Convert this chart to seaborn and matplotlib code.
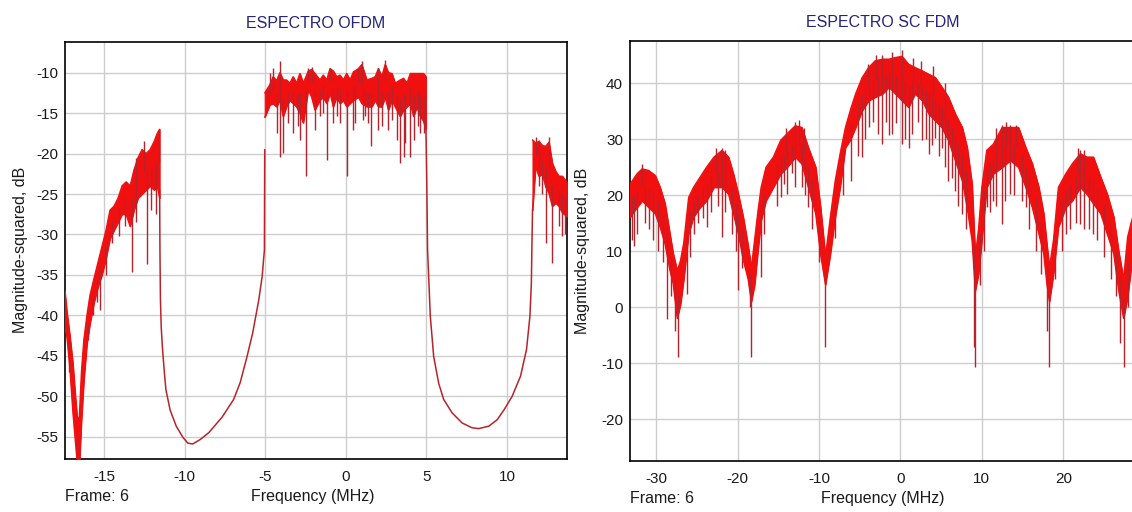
import numpy as np
import matplotlib
matplotlib.use("Agg")
import matplotlib.pyplot as plt
import seaborn as sns

# ---------------- OFDM spectrum (left panel) ----------------
# Noisy lobes: frequency (MHz) with the upper / lower edge of the trace (dB)
ofdm_lobe_l_freq = [-17.43, -17.31, -17.12, -16.93, -16.78, -16.65, -16.53, -16.40, -16.25,
                    -16.06, -15.87, -15.63, -15.38, -15.13, -14.88, -14.63, -14.38, -14.13,
                    -13.88, -13.63, -13.38, -13.14, -12.89, -12.64, -12.39, -12.14, -11.89,
                    -11.70, -11.55]
ofdm_lobe_l_hi = [-37.0, -39.5, -42.5, -46.0, -50.0, -53.0, -52.5, -47.0, -43.0,
                  -40.0, -37.5, -35.5, -33.5, -31.5, -29.5, -27.0, -26.5, -25.5,
                  -24.0, -23.5, -24.0, -22.0, -20.5, -19.5, -20.0, -19.5, -18.5,
                  -17.5, -17.0]
ofdm_lobe_l_lo = [-41.5, -42.5, -46.5, -52.0, -55.5, -58.5, -58.5, -53.0, -48.0,
                  -43.5, -41.0, -38.5, -36.5, -35.0, -33.0, -30.5, -29.5, -28.5,
                  -27.5, -27.5, -29.0, -27.0, -25.5, -25.0, -24.5, -24.0, -24.5,
                  -24.0, -25.5]

ofdm_main_freq = [-5.03, -4.72, -4.51, -4.30, -4.09, -3.89, -3.68, -3.47, -3.27, -3.06,
                  -2.85, -2.64, -2.33, -2.12, -1.92, -1.61, -1.40, -1.19, -0.98, -0.78,
                  -0.57, -0.36, -0.16, 0.05, 0.26, 0.47, 0.78, 0.99, 1.30, 1.61,
                  1.82, 2.02, 2.23, 2.44, 2.64, 2.86, 3.06, 3.37, 3.58, 3.79,
                  4.00, 4.20, 4.41, 4.62, 4.82, 4.97]
ofdm_main_hi = [-12.5, -11.5, -10.5, -11.0, -10.0, -10.9, -10.9, -11.3, -10.5, -11.3,
                -10.1, -11.3, -9.8, -9.6, -10.1, -10.9, -10.3, -10.9, -9.5, -9.8,
                -10.5, -10.3, -10.9, -10.1, -10.9, -9.9, -9.5, -9.0, -10.9, -10.7,
                -10.5, -9.5, -10.5, -9.0, -10.0, -10.1, -11.3, -10.9, -10.7, -11.3,
                -10.1, -10.1, -10.1, -10.1, -10.1, -10.5]
ofdm_main_lo = [-15.5, -14.0, -13.8, -14.2, -13.4, -15.4, -14.2, -13.4, -13.8, -14.2,
                -15.0, -16.2, -12.1, -13.0, -14.6, -13.4, -13.0, -13.8, -12.5, -14.2,
                -13.0, -13.8, -13.4, -14.2, -13.8, -13.4, -13.0, -13.8, -14.2, -14.2,
                -13.4, -14.2, -14.2, -13.0, -14.6, -13.4, -14.2, -15.4, -14.6, -14.2,
                -13.8, -15.4, -14.2, -15.4, -16.0, -17.0]

ofdm_lobe_r_freq = [11.58, 11.77, 11.98, 12.19, 12.40, 12.60, 12.81, 13.02, 13.22, 13.43, 13.73]
ofdm_lobe_r_hi = [-18.3, -18.7, -18.5, -19.0, -19.1, -18.6, -21.2, -22.2, -22.8, -22.8, -23.6]
ofdm_lobe_r_lo = [-27.0, -21.6, -22.8, -22.5, -24.1, -24.9, -26.5, -26.1, -26.5, -27.3, -27.8]

# Smooth roll-off between the occupied bands
ofdm_gap_l_freq = [-11.55, -11.53, -11.50, -11.45, -11.37, -11.25, -11.16, -10.90, -10.52,
                   -10.10, -9.80, -9.50, -9.03, -8.50, -7.68, -6.96, -6.55, -6.13, -5.78,
                   -5.40, -5.19, -5.05, -5.04, -5.03]
ofdm_gap_l_db = [-24.5, -32.0, -38.1, -41.5, -44.2, -47.2, -49.2, -51.7, -53.7,
                 -55.1, -55.8, -55.9, -55.35, -54.5, -52.6, -50.4, -48.3, -45.1, -42.2,
                 -38.1, -35.2, -31.9, -25.0, -19.5]
ofdm_gap_r_freq = [4.97, 5.02, 5.07, 5.24, 5.45, 5.76, 6.07, 6.59, 7.21, 7.83, 8.25,
                   8.87, 9.39, 9.84, 10.32, 10.84, 11.21, 11.42, 11.51, 11.54, 11.58]
ofdm_gap_r_db = [-17.0, -23.2, -31.9, -40.1, -45.1, -48.4, -50.4, -52.05, -53.3, -53.9, -54.0,
                 -53.7, -52.9, -51.6, -50.0, -47.5, -44.2, -40.1, -36.0, -31.9, -27.0]

# Isolated spikes of the OFDM trace (tip value, dB)
ofdm_spike_freq = [-17.2, -16.7, -16.55, -16.0, -15.7, -15.46, -15.25, -14.9, -14.5, -14.05,
                   -13.7, -13.28, -13.0, -13.0, -12.5, -12.35, -12.1, -11.8, -11.6,
                   -4.72, -4.51, -4.30, -4.09, -4.09, -3.89, -3.57, -3.27, -2.95, -2.85,
                   -2.50, -2.33, -2.12, -1.92, -1.61, -1.40, -1.19, -0.98, -0.78, -0.57,
                   -0.36, 0.05, 0.47, 0.57, 0.78, 0.99, 1.09, 1.20, 1.40, 1.55, 2.02,
                   2.02, 2.23, 2.44, 2.64, 2.86, 3.16, 3.37, 3.58, 3.68, 4.00, 4.20,
                   4.50, 4.62, 4.82,
                   11.8, 11.98, 12.0, 12.2, 12.40, 12.60, 12.81, 13.2, 13.43, 13.6]
ofdm_spike_db = [-47.0, -58.0, -58.0, -43.0, -40.0, -38.3, -39.3, -35.0, -31.0, -30.2,
                 -29.0, -34.7, -28.5, -20.5, -18.5, -33.6, -27.0, -27.5, -17.0,
                 -10.1, -9.4, -17.5, -8.6, -20.4, -19.9, -16.2, -17.5, -16.6, -18.3,
                 -22.8, -9.4, -9.3, -17.1, -15.4, -15.0, -20.8, -9.4, -16.2, -15.4,
                 -16.2, -22.8, -17.1, -16.2, -9.4, -8.6, -15.8, -15.4, -16.2, -19.1, -17.1,
                 -9.4, -16.6, -8.4, -17.1, -15.8, -18.3, -21.2, -20.4, -18.7, -20.4, -18.3,
                 -16.6, -17.5, -17.5,
                 -18.0, -24.0, -18.3, -25.0, -31.0, -18.0, -33.5, -29.0, -30.2, -30.0]

# ---------------- SC-FDM spectrum (right panel) ----------------
scfdm_freq = [-33.2, -32.9, -32.35, -31.7, -30.9, -30.1, -29.5, -28.9, -28.3, -27.9,
              -27.4, -27.0, -26.6, -26.0, -25.4, -24.6, -23.8, -22.9, -21.9, -21.1,
              -20.5, -19.9, -19.3, -18.7, -18.3, -17.9, -17.5, -17.1, -16.5, -15.6,
              -14.7, -13.9, -12.9, -12.1, -11.3, -10.4, -9.8, -9.2, -8.6, -8.0,
              -7.4, -6.75, -6.1, -5.5, -4.7, -3.9, -3.1, -2.2, -1.4, -0.6,
              0.2, 1.0, 1.8, 2.7, 3.5, 4.3, 5.1, 5.9, 6.75, 7.6,
              8.2, 8.8, 9.2, 9.6, 10.0, 10.6, 11.4, 12.5, 13.5, 14.5,
              15.4, 16.2, 17.0, 17.6, 18.0, 18.3, 18.8, 19.4, 20.3, 21.1,
              22.1, 22.9, 23.7, 24.6, 25.4, 26.2, 26.8, 27.4, 27.9, 28.3, 28.9]
scfdm_hi = [22.0, 22.6, 23.8, 24.7, 24.4, 23.5, 21.4, 18.5, 13.1, 9.6,
            6.5, 8.3, 11.5, 19.6, 21.4, 23.2, 25.0, 26.8, 28.0, 26.8,
            23.8, 20.2, 16.1, 11.0, 7.0, 12.0, 17.0, 21.4, 25.0, 26.8,
            29.8, 31.0, 32.4, 32.1, 28.5, 25.0, 17.8, 9.0, 16.1, 22.6,
            27.4, 32.1, 35.4, 38.1, 41.0, 42.8, 44.0, 44.3, 44.3, 44.6,
            44.8, 43.4, 42.8, 42.2, 41.6, 41.0, 39.3, 37.5, 34.5, 32.1,
            28.5, 22.0, 9.0, 14.0, 21.4, 28.0, 29.1, 32.1, 32.1, 32.1,
            28.5, 25.6, 21.4, 16.7, 11.0, 7.0, 12.0, 21.4, 23.8, 25.6,
            27.4, 26.8, 26.8, 23.2, 20.2, 16.1, 10.0, 5.0, 12.5, 14.9, 18.0]
scfdm_lo = [16.0, 16.7, 17.8, 19.0, 17.8, 16.7, 14.3, 11.3, 6.6, 4.2,
            -2.0, 0.5, 5.0, 13.1, 16.1, 17.8, 19.0, 21.4, 21.4, 20.2,
            16.7, 13.1, 8.5, 5.0, 1.0, 4.0, 10.0, 15.5, 19.0, 21.4,
            23.8, 25.0, 26.8, 25.6, 21.4, 16.7, 9.5, 4.0, 9.5, 16.1,
            21.4, 28.5, 30.0, 32.1, 35.1, 36.9, 37.5, 38.1, 39.3, 38.1,
            36.9, 35.7, 38.1, 36.9, 34.5, 33.3, 32.1, 29.8, 26.2, 22.6,
            17.8, 11.9, 3.0, 6.0, 11.9, 21.4, 23.8, 25.0, 26.2, 25.0,
            21.4, 17.8, 13.1, 9.5, 4.0, 1.0, 6.0, 14.3, 17.8, 19.0,
            21.4, 20.2, 18.5, 16.7, 13.1, 9.5, 3.0, -2.0, 1.8, 6.6, 10.0]

# Isolated spikes of the SC-FDM trace (tip value, dB)
scfdm_spike_freq = [-33.0, -32.7, -32.35, -31.7, -31.3, -30.9, -30.4, -29.8, -29.2, -28.7,
                    -28.2, -27.7, -27.35, -26.2, -25.8, -25.4, -24.9, -24.2, -23.8, -23.3,
                    -22.6, -22.4, -21.9, -21.9, -21.5, -21.5, -20.7, -20.2, -19.9, -19.5,
                    -18.5, -18.3, -17.1, -16.8, -15.2, -14.7, -14.3, -14.0, -13.9, -13.3,
                    -12.9, -12.9, -12.5, -12.1, -11.8, -11.7, -11.3, -10.8, -10.0, -9.2,
                    -8.0, -7.0, -6.1, -5.2, -4.7, -4.3, -4.0, -3.9, -3.4, -3.0,
                    -2.7, -2.2, -2.2, -1.8, -1.4, -1.0, -1.0, -0.6, 0.2, 0.2,
                    0.6, 1.0, 1.4, 1.5, 2.2, 2.5, 2.7, 3.1, 3.5, 3.9,
                    4.0, 4.3, 4.7, 5.1, 5.5, 5.5, 5.9, 6.3, 6.75, 7.1,
                    7.6, 8.0, 9.0, 9.2, 9.8, 10.3, 10.6, 11.0, 11.4, 11.8,
                    11.8, 12.5, 12.5, 12.9, 13.0, 13.5, 13.5, 13.9, 14.2, 14.9,
                    15.4, 15.8, 16.6, 17.3, 18.0, 18.3, 19.0, 19.8, 20.3, 20.8,
                    21.6, 21.8, 22.1, 22.1, 22.5, 22.6, 23.2, 23.7, 24.2, 25.0,
                    25.8, 26.5, 27.0, 27.4, 28.0, 28.6]
scfdm_spike_db = [12.0, 11.0, 13.1, 25.5, 15.0, 14.0, 12.0, 10.0, 8.0, -2.1,
                  2.0, -4.2, -8.9, 2.4, 9.0, 13.1, 15.0, 16.0, 14.3, 17.0,
                  28.5, 18.0, 12.5, 28.5, 17.0, 28.0, 13.0, 10.0, 3.0, 7.0,
                  0.0, -8.9, 5.4, 13.0, 18.0, 19.6, 22.0, 32.0, 20.2, 24.0,
                  21.4, 33.0, 33.5, 21.4, 32.0, 20.0, 17.8, 14.0, 8.0, -7.1,
                  12.4, 20.0, 22.6, 27.0, 26.8, 30.0, 43.5, 32.1, 33.0, 45.0,
                  31.0, 29.1, 45.0, 33.0, 30.8, 31.0, 45.5, 32.9, 29.1, 46.0,
                  30.0, 28.5, 31.0, 44.5, 33.0, 44.0, 29.8, 30.0, 27.4, 29.0,
                  43.0, 30.3, 27.0, 28.5, 25.0, 40.0, 22.6, 23.0, 20.8, 18.0,
                  16.7, 14.0, -7.1, -10.7, 4.0, 10.0, 17.8, 17.0, 19.0, 18.0,
                  32.0, 14.9, 32.5, 19.0, 33.0, 20.2, 32.5, 20.0, 32.5, 19.0,
                  17.8, 14.0, 10.0, 6.0, -4.2, -10.7, 5.0, 10.0, 13.1, 14.0,
                  15.0, 28.5, 14.9, 28.0, 28.0, 14.0, 14.0, 13.1, 12.0, 9.0,
                  5.0, 2.0, -6.5, -10.7, 0.0, 5.0]

RED = "#f01010"
DARK_RED = "#b8232b"
TITLE_BLUE = "#24247c"

sns.set_theme(style="whitegrid")
plt.rcParams["font.family"] = ["Liberation Sans", "DejaVu Sans"]
plt.rcParams["axes.unicode_minus"] = False

fig = plt.figure(figsize=(11.32, 5.12), dpi=100)
fig.patch.set_facecolor("white")
W, H = 1132, 512
ax1 = fig.add_axes([65 / W, (H - 459) / H, 502 / W, (459 - 41.7) / H])
ax2 = fig.add_axes([630 / W, (H - 460.7) / H, 506 / W, (460.7 - 40.7) / H])


def draw_band(ax, f, hi, lo):
    f, hi, lo = map(np.asarray, (f, hi, lo))
    ax.fill_between(f, lo, hi, color=RED, linewidth=0.8, edgecolor=RED, zorder=3)
    sns.lineplot(x=f, y=hi, ax=ax, color=RED, linewidth=1.0, sort=False,
                 estimator=None, zorder=3)
    sns.lineplot(x=f, y=lo, ax=ax, color=RED, linewidth=1.0, sort=False,
                 estimator=None, zorder=3)


def draw_spikes(ax, sf, sdb, band_f, band_hi, band_lo):
    band_f = np.asarray(band_f)
    order = np.argsort(band_f)
    mid = (np.asarray(band_hi) + np.asarray(band_lo)) / 2
    base = np.interp(sf, band_f[order], mid[order])
    ax.vlines(sf, base, sdb, color=DARK_RED, linewidth=1.0, zorder=4)


# left panel
for f, hi, lo in [(ofdm_lobe_l_freq, ofdm_lobe_l_hi, ofdm_lobe_l_lo),
                  (ofdm_main_freq, ofdm_main_hi, ofdm_main_lo),
                  (ofdm_lobe_r_freq, ofdm_lobe_r_hi, ofdm_lobe_r_lo)]:
    draw_band(ax1, f, hi, lo)
for f, db in [(ofdm_gap_l_freq, ofdm_gap_l_db), (ofdm_gap_r_freq, ofdm_gap_r_db)]:
    sns.lineplot(x=f, y=db, ax=ax1, color=DARK_RED, linewidth=1.1, sort=False,
                 estimator=None, zorder=3)
all_f = ofdm_lobe_l_freq + ofdm_main_freq + ofdm_lobe_r_freq
all_hi = ofdm_lobe_l_hi + ofdm_main_hi + ofdm_lobe_r_hi
all_lo = ofdm_lobe_l_lo + ofdm_main_lo + ofdm_lobe_r_lo
draw_spikes(ax1, ofdm_spike_freq, ofdm_spike_db, all_f, all_hi, all_lo)

# right panel
draw_band(ax2, scfdm_freq, scfdm_hi, scfdm_lo)
draw_spikes(ax2, scfdm_spike_freq, scfdm_spike_db, scfdm_freq, scfdm_hi, scfdm_lo)

panels = [
    (ax1, "ESPECTRO OFDM", (-17.42, 13.72), (-57.76, -6.17),
     np.arange(-15, 11, 5), np.arange(-55, -9, 5), -0.0737),
    (ax2, "ESPECTRO SC FDM", (-33.2, 28.93), (-27.45, 47.6),
     np.arange(-30, 21, 10), np.arange(-20, 41, 10), -0.0794),
]
for ax, title, xl, yl, xt, yt, ylab_x in panels:
    ax.set_facecolor("white")
    ax.set_xlim(*xl)
    ax.set_ylim(*yl)
    ax.set_xticks(xt)
    ax.set_yticks(yt)
    ax.grid(True, color="#cdcdcd", linewidth=1.0)
    ax.set_axisbelow(True)
    for s in ax.spines.values():
        s.set_visible(True)
        s.set_color("black")
        s.set_linewidth(1.2)
    ax.tick_params(axis="both", length=0, labelsize=11, labelcolor="#1a1a1a")
    ax.tick_params(axis="x", pad=8)
    ax.tick_params(axis="y", pad=5)
    ax.set_title(title, color=TITLE_BLUE, fontsize=11.5, pad=10)
    ax.set_xlabel("Frequency (MHz)", fontsize=11.5, color="#1a1a1a")
    ax.set_ylabel("Magnitude-squared, dB", fontsize=11.5, color="#1a1a1a")
    ax.xaxis.set_label_coords(0.494 if ax is ax1 else 0.5, -0.072)
    ax.yaxis.set_label_coords(ylab_x, 0.5)
    ax.text(0.0, -0.072, "Frame: 6", transform=ax.transAxes, ha="left", va="top",
            fontsize=11.5, color="#1a1a1a")

# the right-hand panel runs past the image edge, so its right border is not shown
ax2.spines["right"].set_visible(False)

fig.savefig("out.png", dpi=100, facecolor="white")
